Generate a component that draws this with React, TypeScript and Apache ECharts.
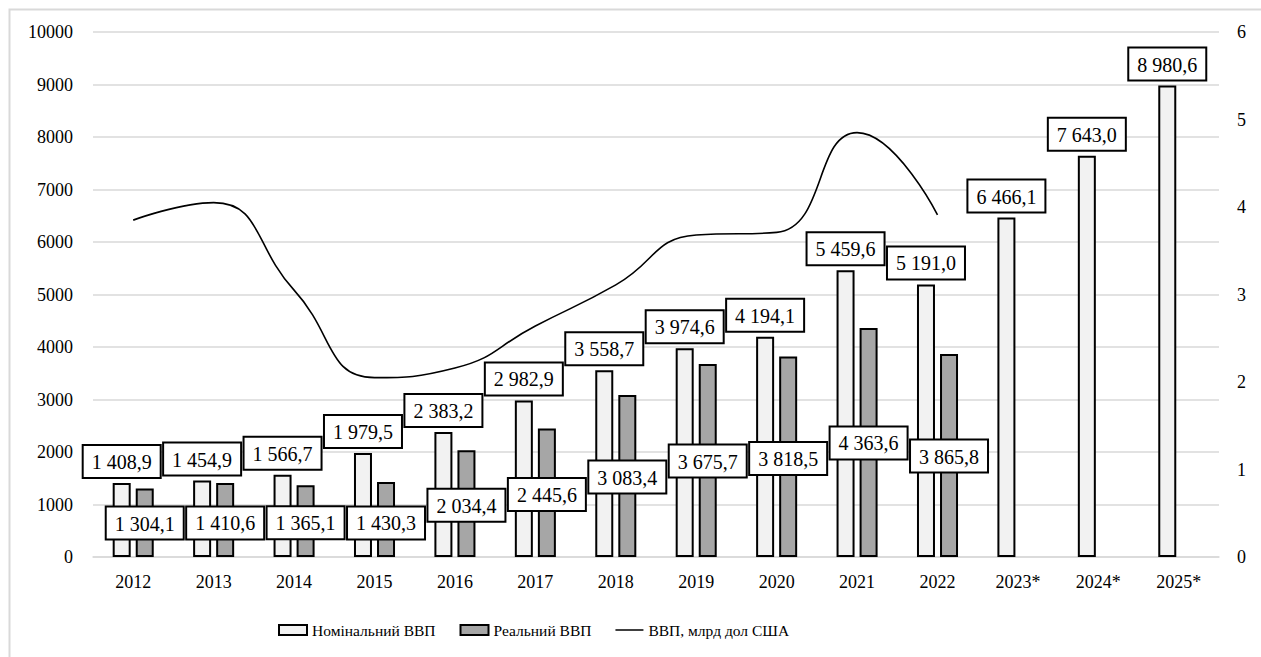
import React, { useEffect, useRef } from "react";
import * as echarts from "echarts";

const years = ["2012", "2013", "2014", "2015", "2016", "2017", "2018", "2019", "2020", "2021", "2022", "2023*", "2024*", "2025*"];
const nominalGdp = [1408.9, 1454.9, 1566.7, 1979.5, 2383.2, 2982.9, 3558.7, 3974.6, 4194.1, 5459.6, 5191.0, 6466.1, 7643.0, 8980.6];
const realGdp = [1304.1, 1410.6, 1365.1, 1430.3, 2034.4, 2445.6, 3083.4, 3675.7, 3818.5, 4363.6, 3865.8, null, null, null];
const gdpUsd = [3.85, 4.05, 3.05, 2.05, 2.16, 2.64, 3.11, 3.68, 3.71, 4.85, 3.91, null, null, null];
const leftTicks = { min: 0, max: 10000, interval: 1000 };
const rightTicks = { min: 0, max: 6, interval: 1 };
// label vertical shifts (px) for the real GDP labels (style only)
const realLabelShift = [50, 55.5, 53, 56.5, 70.5, 81.5, 97.5, 112.5, 117.5, 130.5, 117.5];

const FONT = "'Liberation Serif', 'Times New Roman', serif";

function fmt(v: number): string {
  const [i, d] = v.toFixed(1).split(".");
  return i.replace(/\B(?=(\d{3})+(?!\d))/g, " ") + "," + d;
}

const boxLabel = {
  show: true,
  color: "#000",
  fontFamily: FONT,
  fontSize: 20,
  lineHeight: 22,
  backgroundColor: "#fff",
  borderColor: "#000",
  borderWidth: 2,
  padding: [5, 8, 4, 8],
  formatter: (p: any) => fmt(p.value),
};

export default function App() {
  const ref = useRef<HTMLDivElement>(null);
  useEffect(() => {
    if (!ref.current) return;
    const chart = echarts.init(ref.current, undefined, { renderer: "svg" });
    chart.setOption({
      animation: false,
      backgroundColor: "#fff",
      textStyle: { fontFamily: FONT },
      graphic: [
        {
          type: "rect",
          left: 7,
          top: 7,
          shape: { x: 0, y: 0, width: 1270, height: 670 },
          style: { fill: "none", stroke: "#d9d9d9", lineWidth: 2 },
          silent: true,
        },
      ],
      grid: { left: 93, right: 42, top: 32, bottom: 100, containLabel: false },
      legend: {
        left: 273,
        top: 617,
        itemWidth: 28,
        itemHeight: 10,
        itemGap: 24,
        textStyle: { fontFamily: FONT, fontSize: 15.5, color: "#000" },
        data: [
          { name: "Номінальний ВВП", icon: "rect" },
          { name: "Реальний ВВП", icon: "rect" },
          { name: "ВВП, млрд дол США", icon: "path://M0,5 L28,5 L28,6.5 L0,6.5 Z" },
        ],
      },
      xAxis: {
        type: "category",
        data: years,
        axisLine: { lineStyle: { color: "#d9d9d9", width: 1.5 } },
        axisTick: { show: false },
        axisLabel: { color: "#000", fontFamily: FONT, fontSize: 18, margin: 16 },
      },
      yAxis: [
        {
          type: "value",
          ...leftTicks,
          axisLine: { show: false },
          axisTick: { show: false },
          splitLine: { lineStyle: { color: "#d9d9d9", width: 1.5 } },
          axisLabel: {
            color: "#000",
            fontFamily: FONT,
            fontSize: 18,
            margin: 20,
            formatter: (v: number) => String(v),
          },
        },
        {
          type: "value",
          ...rightTicks,
          position: "right",
          axisLine: { show: false },
          axisTick: { show: false },
          splitLine: { show: false },
          axisLabel: { color: "#000", fontFamily: FONT, fontSize: 18, margin: 18 },
        },
      ],
      series: [
        {
          name: "Номінальний ВВП",
          type: "bar",
          data: nominalGdp,
          barWidth: 18,
          barGap: "28%",
          itemStyle: { color: "#f2f2f2", borderColor: "#000", borderWidth: 2 },
          label: { ...boxLabel, position: "top", distance: 6 },
          z: 2,
        },
        {
          name: "Реальний ВВП",
          type: "bar",
          barWidth: 18,
          data: realGdp.map((v, i) =>
            v == null
              ? null
              : { value: v, label: { offset: [0, realLabelShift[i]] } }
          ),
          itemStyle: { color: "#a6a6a6", borderColor: "#000", borderWidth: 2 },
          label: { ...boxLabel, position: "top", distance: 0 },
          z: 3,
        },
        {
          name: "ВВП, млрд дол США",
          type: "line",
          yAxisIndex: 1,
          data: gdpUsd,
          smooth: 0.5,
          symbol: "none",
          lineStyle: { color: "#000", width: 1.6 },
          itemStyle: { color: "#000" },
          z: 1,
        },
      ],
    });
    return () => chart.dispose();
  }, []);
  return (
    <div
      ref={ref}
      style={{ position: "fixed", left: 0, top: 0, width: 1261, height: 657 }}
    />
  );
}
